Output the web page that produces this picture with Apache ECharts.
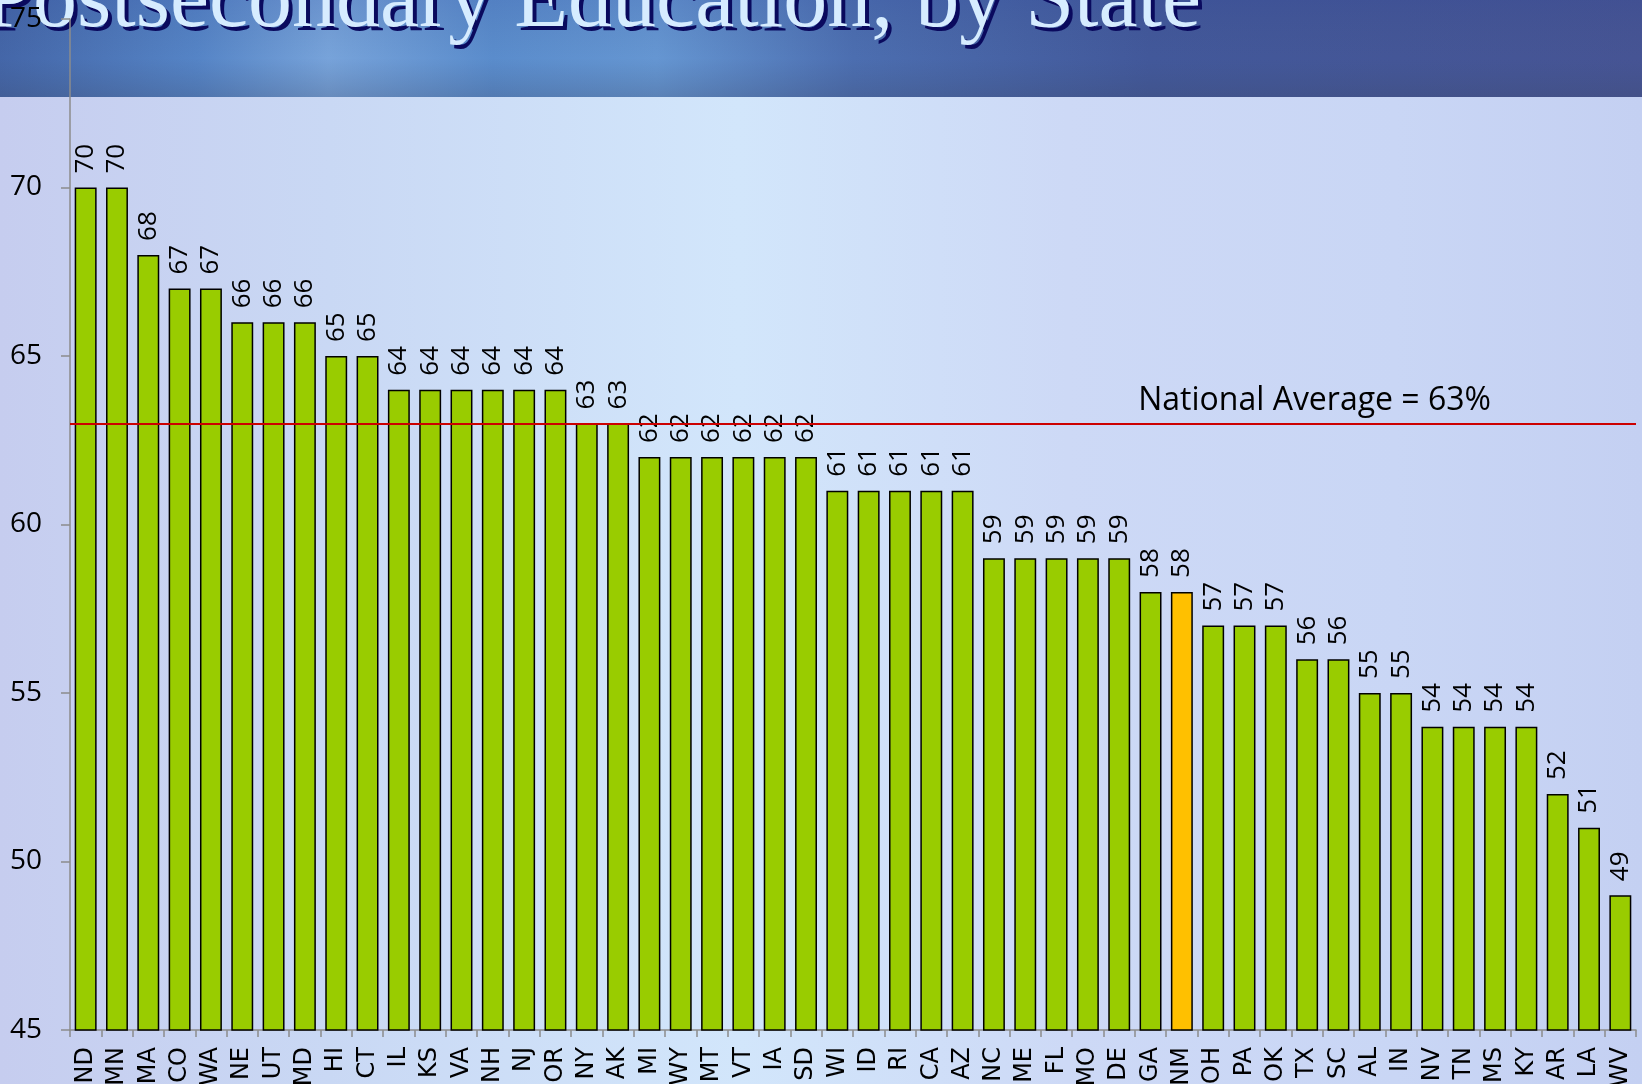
<!DOCTYPE html>
<html>
<head>
    <meta charset="utf-8">
    <script src="https://cdn.jsdelivr.net/npm/echarts@6/dist/echarts.min.js"></script>
    <style>
        html, body { margin: 0; padding: 0; }
        body {
            width: 1642px; height: 1084px; overflow: hidden;
            background: linear-gradient(90deg, #c6cdef 0%, #c9d8f4 20%, #d2e6fb 45%, #cdd9f6 65%, #c9d6f5 85%, #c4d0f2 100%);
        }
    </style>
</head>
<body>
    <div id="main" style="width: 1642px;height:1084px;"></div>

<script type="text/javascript">
// 各州数据
var states = ['ND','MN','MA','CO','WA','NE','UT','MD','HI','CT','IL','KS','VA','NH','NJ','OR','NY','AK','MI','WY',
              'MT','VT','IA','SD','WI','ID','RI','CA','AZ','NC','ME','FL','MO','DE','GA','NM','OH','PA','OK','TX',
              'SC','AL','IN','NV','TN','MS','KY','AR','LA','WV'];
var rates = [70,70,68,67,67,66,66,66,65,65,64,64,64,64,64,64,63,63,62,62,
             62,62,62,62,61,61,61,61,61,59,59,59,59,59,58,58,57,57,57,56,
             56,55,55,54,54,54,54,52,51,49];
var highlight = 'NM';
var nationalAvg = 63;
var yTicks = [45, 75, 5];   // min, max, interval
var titleText = 'Postsecondary Education, by State';

var myChart = echarts.init(document.getElementById('main'));

var barData = rates.map(function (v, i) {
    return {
        value: v,
        itemStyle: { color: states[i] === highlight ? '#ffc000' : '#99cc00' }
    };
});

option = {
    backgroundColor: 'transparent',
    animation: false,
    graphic: [
        {
            type: 'rect', z: -10, silent: true,
            shape: { x: 0, y: 0, width: 1642, height: 97 },
            style: {
                fill: new echarts.graphic.LinearGradient(0, 0, 1, 0, [
                    { offset: 0, color: '#4466a8' },
                    { offset: 0.12, color: '#5584c6' },
                    { offset: 0.2, color: '#77a3da' },
                    { offset: 0.3, color: '#5a8ccc' },
                    { offset: 0.4, color: '#6596d2' },
                    { offset: 0.52, color: '#4c6eb0' },
                    { offset: 0.7, color: '#42589a' },
                    { offset: 1, color: '#465494' }
                ])
            }
        },
        {
            type: 'rect', z: -9, silent: true,
            shape: { x: 0, y: 0, width: 1642, height: 97 },
            style: {
                fill: new echarts.graphic.LinearGradient(0, 0, 0, 1, [
                    { offset: 0, color: 'rgba(40,60,140,0.15)' },
                    { offset: 0.6, color: 'rgba(60,80,120,0)' },
                    { offset: 1, color: 'rgba(60,70,100,0.25)' }
                ])
            }
        },
        // 标题阴影
        {
            type: 'text', z: -6, silent: true,
            style: {
                text: titleText,
                x: -12, y: 7,
                verticalAlign: 'middle',
                font: '88px "Liberation Serif"',
                fill: '#0a0a5e'
            }
        },
        {
            type: 'text', z: -5, silent: true,
            style: {
                text: titleText,
                x: -16, y: 3,
                verticalAlign: 'middle',
                font: '88px "Liberation Serif"',
                fill: '#d6ecff'
            }
        }
    ],
    grid: { left: 70, right: 6, top: 19, bottom: 54, containLabel: false, outerBoundsMode: 'none' },
    xAxis: {
        type: 'category',
        data: states,
        axisLine: { lineStyle: { color: '#8c8c8c', width: 1.5 } },
        axisTick: { show: true, length: 7, lineStyle: { color: '#8c8c8c', width: 1.5 } },
        axisLabel: {
            interval: 0, rotate: 90, margin: 17,
            color: '#000', fontSize: 24, fontFamily: 'DejaVu Sans'
        }
    },
    yAxis: {
        type: 'value',
        min: yTicks[0], max: yTicks[1], interval: yTicks[2],
        axisLine: { show: true, lineStyle: { color: '#8c8c8c', width: 1.5 } },
        axisTick: { show: true, length: 9, lineStyle: { color: '#8c8c8c', width: 1.5 } },
        splitLine: { show: false },
        axisLabel: { margin: 28, color: '#000', fontSize: 28, fontFamily: 'Open Sans' }
    },
    series: [
        {
            type: 'bar',
            data: barData,
            barWidth: '70%',
            itemStyle: { borderColor: '#000', borderWidth: 1.5 },
            label: {
                show: true, position: 'top', rotate: 90,
                align: 'left', verticalAlign: 'middle', distance: 14,
                color: '#000', fontSize: 26, fontFamily: 'Open Sans'
            },
            markLine: {
                silent: true, symbol: 'none',
                lineStyle: { color: '#cc0000', width: 2, type: 'solid' },
                label: {
                    show: true, position: 'insideEndTop',
                    formatter: 'National Average = ' + nationalAvg + '%',
                    color: '#000', fontSize: 32, fontFamily: 'Open Sans',
                    padding: [0, 140, 2, 0]
                },
                data: [{ yAxis: nationalAvg }]
            }
        }
    ]
};

myChart.setOption(option);
</script>
</body>
</html>
